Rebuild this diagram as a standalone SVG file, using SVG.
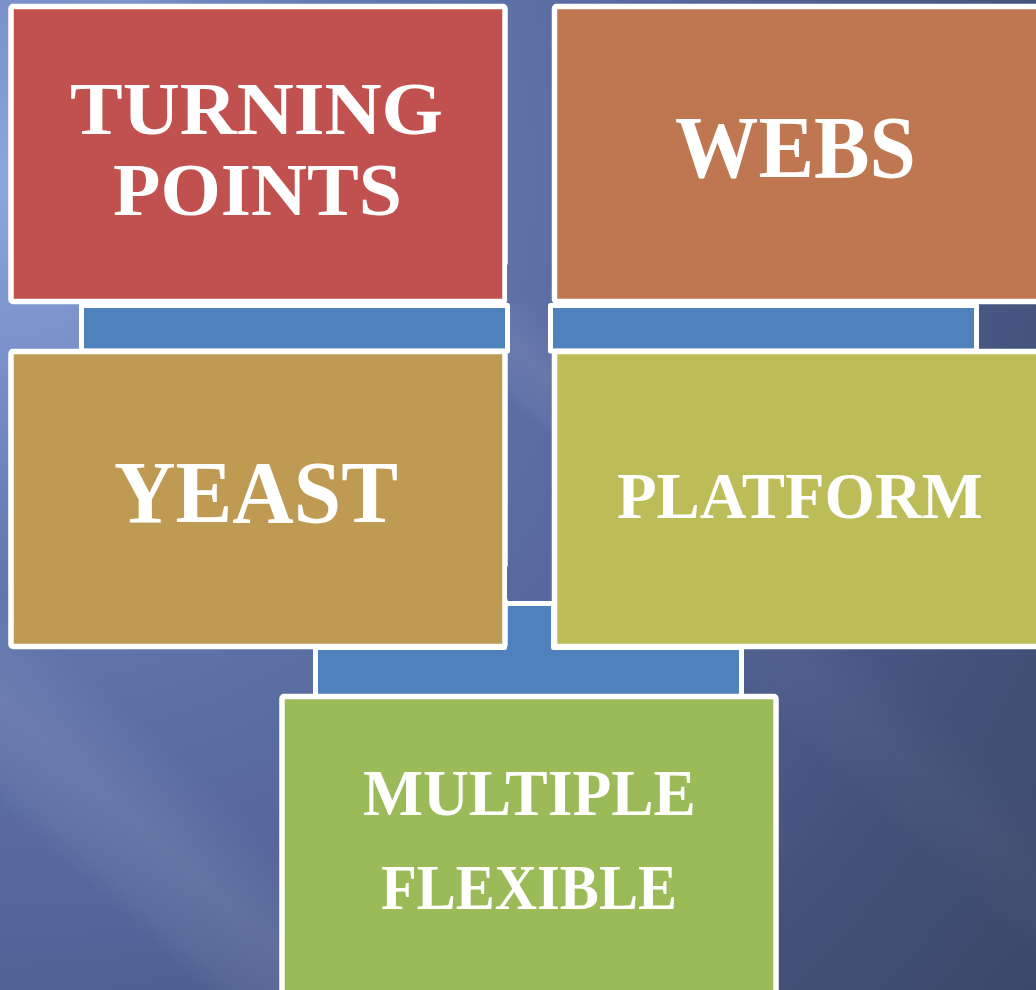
<svg xmlns="http://www.w3.org/2000/svg" width="1036" height="990" viewBox="0 0 1036 990">
  <defs>
    <radialGradient id="bg" gradientUnits="userSpaceOnUse" cx="0" cy="180" r="1350">
      <stop offset="0" stop-color="#8ea5de"/>
      <stop offset="0.28" stop-color="#6479b0"/>
      <stop offset="0.55" stop-color="#54659a"/>
      <stop offset="0.8" stop-color="#44527a"/>
      <stop offset="1" stop-color="#3a4667"/>
    </radialGradient>
    <linearGradient id="streak" x1="0" y1="0" x2="0" y2="1">
      <stop offset="0" stop-color="#ffffff" stop-opacity="0"/>
      <stop offset="0.5" stop-color="#ffffff" stop-opacity="0.09"/>
      <stop offset="0.85" stop-color="#ffffff" stop-opacity="0.05"/>
      <stop offset="1" stop-color="#ffffff" stop-opacity="0"/>
    </linearGradient>
    <style>
      .box { stroke: #ffffff; stroke-width: 5.5; }
      .conn { fill: #4f81bd; stroke: #ffffff; stroke-width: 5; stroke-linejoin: round; }
      .lbl { font-family: "Liberation Serif", "DejaVu Serif", serif; font-weight: bold; fill: #ffffff; text-anchor: middle; }
    </style>
  </defs>

  <!-- background -->
  <rect x="0" y="0" width="1036" height="990" fill="url(#bg)"/>
  <rect x="-300" y="-80" width="1600" height="160" fill="url(#streak)" transform="translate(0,700) rotate(42)"/>
  <rect x="-600" y="-45" width="900" height="90" fill="url(#streak)" opacity="0.8" transform="translate(530,360) rotate(42)"/>
  <rect x="-100" y="-60" width="600" height="120" fill="url(#streak)" opacity="0.35" transform="translate(830,690) rotate(42)"/>

  <!-- connectors -->
  <g id="connectors">
    <rect class="conn" x="81.5" y="305.5" width="426" height="45.5"/>
    <rect class="conn" x="550.5" y="305.5" width="426" height="45.5"/>
    <path class="conn" d="M315.5,647.5 H504.5 V603.5 H553.5 V647.5 H741.5 V696.5 H315.5 Z"/>
  </g>

  <!-- nodes -->
  <g id="node-turning-points">
    <rect class="box" x="11" y="6.5" width="494" height="295" rx="2" fill="#c0514e"/>
    <text class="lbl" x="256.5" y="134" font-size="74" textLength="373" lengthAdjust="spacingAndGlyphs">TURNING</text>
    <text class="lbl" x="257.5" y="215" font-size="75" textLength="289" lengthAdjust="spacingAndGlyphs">POINTS</text>
  </g>
  <g id="node-webs">
    <rect class="box" x="554.5" y="6.5" width="494" height="295" rx="2" fill="#bf7751"/>
    <text class="lbl" x="795.5" y="177" font-size="88" textLength="241" lengthAdjust="spacingAndGlyphs">WEBS</text>
  </g>
  <g id="node-yeast">
    <rect class="box" x="11" y="351.5" width="494" height="295" rx="2" fill="#be9a52"/>
    <text class="lbl" x="256" y="522" font-size="88" textLength="284" lengthAdjust="spacingAndGlyphs">YEAST</text>
  </g>
  <g id="node-platform">
    <rect class="box" x="554.5" y="351.5" width="494" height="295" rx="2" fill="#bcbc58"/>
    <text class="lbl" x="800" y="518" font-size="66" textLength="366" lengthAdjust="spacingAndGlyphs">PLATFORM</text>
  </g>

  <!-- background gaps cutting into the box outlines -->
  <g id="gaps">
    <rect x="507" y="263" width="44" height="40" rx="3" fill="url(#bg)"/>
    <rect x="507" y="565" width="44" height="35.5" rx="3" fill="url(#bg)"/>
  </g>

  <g id="node-multiple-flexible">
    <rect class="box" x="282" y="696.5" width="494" height="400" rx="2" fill="#9bbb59"/>
    <text class="lbl" x="529.5" y="815" font-size="65" textLength="333" lengthAdjust="spacingAndGlyphs">MULTIPLE</text>
    <text class="lbl" x="529" y="909" font-size="63" textLength="296" lengthAdjust="spacingAndGlyphs">FLEXIBLE</text>
  </g>
</svg>
